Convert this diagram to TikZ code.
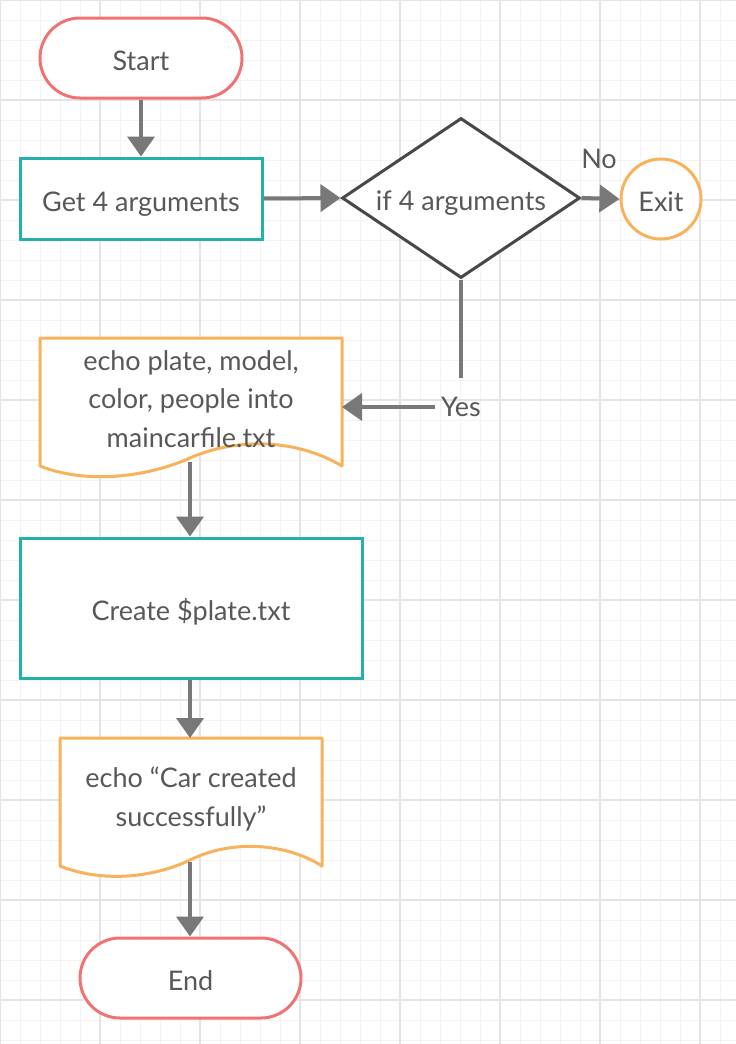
\documentclass[tikz,border=0pt]{standalone}
\usepackage{fontspec}
\setmainfont{Lato}
\usetikzlibrary{arrows.meta,shapes.geometric}
\definecolor{termred}{RGB}{240,115,115}
\definecolor{procteal}{RGB}{38,176,171}
\definecolor{docorange}{RGB}{248,178,92}
\definecolor{diadark}{RGB}{72,72,72}
\definecolor{arrowgray}{RGB}{120,120,120}
\definecolor{txtgray}{RGB}{88,88,88}
\definecolor{gridminor}{RGB}{243,243,243}
\definecolor{gridmajor}{RGB}{228,228,228}
\tikzset{
  base/.style={font=\fontsize{27}{38.5}\selectfont, text=txtgray, align=center, line width=3pt, fill=white, text height=25pt, text depth=0pt},
  term/.style={base, draw=termred, rectangle, rounded corners=40pt, minimum height=80pt},
  proc/.style={base, draw=procteal, rectangle},
  decision/.style={base, draw=diadark, diamond, aspect=1.49, minimum width=238pt, minimum height=160pt, inner sep=0pt},
  exitc/.style={base, draw=docorange, circle, minimum size=80pt, inner sep=0pt},
  docshape/.style={draw=docorange, line width=3pt, fill=white, line join=round},
  txt/.style={font=\fontsize{27}{38.5}\selectfont, text=txtgray, align=center, inner sep=0pt},
  conn/.style={draw=arrowgray, line width=4pt, -{Triangle[length=20pt,width=27pt]}},
  connplain/.style={draw=arrowgray, line width=4pt},
}
\begin{document}
\begin{tikzpicture}[x=1pt,y=-1pt]
\useasboundingbox (0,0) rectangle (736,1044);
\fill[white] (0,0) rectangle (736,1044);
% grid
\foreach \i in {0,20,...,740} {\draw[gridminor,line width=1pt] (\i,0) -- (\i,1044);}
\foreach \j in {0,20,...,1040} {\draw[gridminor,line width=1pt] (0,\j) -- (736,\j);}
\foreach \i in {0,100,...,700} {\draw[gridmajor,line width=2pt] (\i,0) -- (\i,1044);}
\foreach \j in {0,100,...,1000} {\draw[gridmajor,line width=2pt] (0,\j) -- (736,\j);}

% nodes
\node[term, minimum width=202pt] (start) at (141,58) {Start};
\node[proc, minimum width=242pt, minimum height=81pt] (get) at (141,198.5) {Get 4 arguments};
\node[decision] (dia) at (461,198) {if 4 arguments};
\node[exitc] (exit) at (661,199) {Exit};
\node[txt] (no) at (599,159) {No};

% document 1
\draw[docshape] (40,338) -- (342,338) -- (342,466)
  .. controls (295,438) and (235,438) .. (190,458)
  .. controls (145,478) and (85,484) .. (40,466) -- cycle;
\node[txt] (doc1) at (191,399) {echo plate, model,\\color, people into\\maincarfile.txt};
\coordinate (doc1east) at (342,407);
\coordinate (doc1bot) at (190,462);

\coordinate (yesbend) at (461,378);
\node[txt] (yes) at (461,407) {Yes};

\node[proc, minimum width=342pt, minimum height=140pt] (create) at (191,608) {Create \$plate.txt};

% document 2
\draw[docshape] (60,738) -- (322,738) -- (322,866)
  .. controls (284,842) and (230,840) .. (190,860)
  .. controls (150,879) and (100,882) .. (60,866) -- cycle;
\node[txt] (doc2) at (191,799) {echo “Car created\\successfully”};
\coordinate (doc2top) at (190,738);
\coordinate (doc2bot) at (190,862);

\node[term, minimum width=221pt] (end) at (190.5,978) {End};

% connectors
\draw[conn] (start.south) -- (get.north);
\draw[conn] (get.east) -- (dia.west);
\draw[conn] (dia.east) -- (exit.west);
\draw[connplain] (dia.south) -- (yesbend);
\draw[conn] (yes.west) ++(-6,0) -- (doc1east);
\draw[conn] (doc1bot) -- (create.north -| doc1bot);
\draw[conn] (create.south -| doc2top) -- (doc2top);
\draw[conn] (doc2bot) -- (end.north -| doc2bot);
\end{tikzpicture}
\end{document}
